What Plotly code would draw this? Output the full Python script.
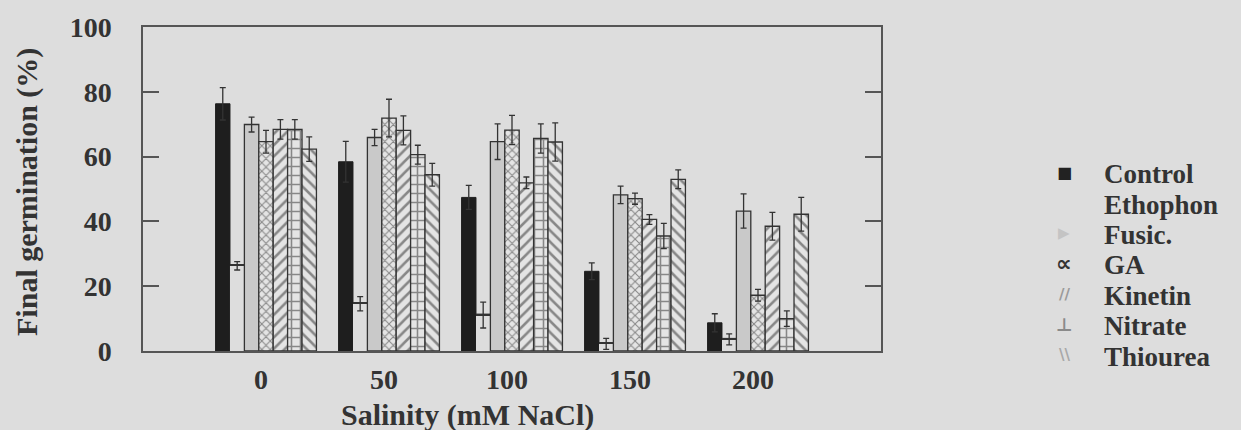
import plotly.graph_objects as go

# ---------------- data ----------------
salinity_labels = ["0", "50", "100", "150", "200"]
salinity_pos = [0, 1, 2, 3, 4]

control = [76.3, 58.4, 47.4, 24.6, 8.7]
control_err = [5.0, 6.3, 3.7, 2.6, 2.8]
ethophon = [26.3, 14.6, 11.1, 2.2, 3.6]
ethophon_err = [1.3, 2.2, 4.0, 1.7, 1.7]
fusic = [69.9, 65.9, 64.6, 48.2, 43.2]
fusic_err = [2.3, 2.5, 5.5, 2.7, 5.3]
ga = [64.6, 71.9, 68.2, 47.0, 17.2]
ga_err = [3.5, 5.8, 4.5, 1.7, 1.8]
kinetin = [68.4, 68.1, 51.9, 40.6, 38.5]
kinetin_err = [3.0, 4.5, 1.8, 1.5, 4.3]
nitrate = [68.4, 60.6, 65.6, 35.5, 10.0]
nitrate_err = [3.0, 2.9, 4.5, 3.9, 2.4]
thiourea = [62.3, 54.4, 64.5, 53.0, 42.2]
thiourea_err = [3.8, 3.5, 5.9, 2.9, 5.2]

y_ticks = [0, 20, 40, 60, 80, 100]

# ---------------- style ----------------
W, H = 1241, 430
ML, MR, MT, MB = 143, 360, 23, 79
PW, PH = W - ML - MR, H - MT - MB
BG = "#dddddd"
INK = "#333333"
AXC = "#555555"
FONT = "Liberation Serif"
TOP_LINE = 0.45  # thickness of the Ethophon top stroke (data units)


def px_x(px):
    return (px - ML) / PW


def px_y(py):
    return (H - MB - py) / PH


def err(vals):
    return dict(type="data", array=vals, visible=True, color=INK,
                thickness=1.3, width=3)


fig = go.Figure()

fig.add_trace(go.Bar(name="Control", x=salinity_pos, y=control, offsetgroup="c",
                     marker=dict(color="#1e1e1e", line=dict(color="#1e1e1e", width=1)),
                     error_y=err(control_err)))
fig.add_trace(go.Bar(name="Ethophon", x=salinity_pos, y=ethophon, offsetgroup="e",
                     marker=dict(color=BG, line=dict(width=0)),
                     error_y=err(ethophon_err)))
fig.add_trace(go.Bar(name="Ethophon top", x=salinity_pos, y=[TOP_LINE] * len(ethophon),
                     base=ethophon, offsetgroup="e", showlegend=False,
                     marker=dict(color=INK, line=dict(width=0))))
fig.add_trace(go.Bar(name="Fusic.", x=salinity_pos, y=fusic, offsetgroup="f",
                     marker=dict(color="#c9c9c9", line=dict(color=INK, width=1.3)),
                     error_y=err(fusic_err)))
pattern_series = [
    ("GA", ga, ga_err, "x", 6, "g"),
    ("Kinetin", kinetin, kinetin_err, "/", 8, "k"),
    ("Nitrate", nitrate, nitrate_err, "+", 9, "n"),
    ("Thiourea", thiourea, thiourea_err, "\\", 8, "t"),
]
for name, vals, errs, shape, size, grp in pattern_series:
    fig.add_trace(go.Bar(name=name, x=salinity_pos, y=vals, offsetgroup=grp,
                         marker=dict(color="#e4e4e4", line=dict(color=INK, width=1.3),
                                     pattern=dict(shape=shape, size=size, solidity=0.32,
                                                  fgcolor="#2a2a2a", bgcolor="#e4e4e4")),
                         error_y=err(errs)))

fig.update_traces(showlegend=False)

fig.update_layout(
    width=W, height=H,
    margin=dict(l=ML, r=MR, t=MT, b=MB),
    paper_bgcolor=BG, plot_bgcolor=BG,
    barmode="group", bargap=0.18, bargroupgap=0,
    font=dict(family=FONT, color=INK, size=28, weight="bold"),
    xaxis=dict(range=[-1, 5], tickvals=salinity_pos, ticktext=salinity_labels,
               ticks="", showline=True, linecolor=AXC, linewidth=1.5, mirror=True,
               showgrid=False, zeroline=False, ticklabelstandoff=3, ticklabelshift=-5,
               tickfont=dict(size=28, family=FONT, color=INK, weight="bold")),
    xaxis2=dict(range=[-1, 5], overlaying="x", side="top", tickvals=salinity_pos,
                ticks="inside", ticklen=13, tickwidth=1.5, tickcolor=AXC,
                showticklabels=False, showline=False, showgrid=False, zeroline=False),
    yaxis=dict(range=[0, 100], tickvals=y_ticks, ticks="inside", ticklen=16,
               tickwidth=1.5, tickcolor=AXC, showline=True, linecolor=AXC, linewidth=1.5,
               mirror="ticks", showgrid=False, zeroline=False, ticklabelstandoff=24,
               tickfont=dict(size=28, family=FONT, color=INK, weight="bold")),
    showlegend=False,
)

annotations = [
    dict(text="Final germination (%)", xref="paper", yref="paper",
         x=px_x(27), y=px_y(190), xanchor="center", yanchor="middle", textangle=-90,
         showarrow=False, font=dict(size=30, family=FONT, color=INK, weight="bold")),
    dict(text="Salinity (mM NaCl)", xref="paper", yref="paper",
         x=px_x(467), y=px_y(416), xanchor="center", yanchor="middle",
         showarrow=False, font=dict(size=30, family=FONT, color=INK, weight="bold")),
]

legend_names = ["Control", "Ethophon", "Fusic.", "GA", "Kinetin", "Nitrate", "Thiourea"]
legend_syms = ["■", "", "▶", "∝", "∕∕", "⊥", "\\\\"]
legend_sym_colors = ["#222222", BG, "#c4c4c4", "#333333", "#9a9a9a", "#8a8a8a", "#a8a8a8"]
legend_sym_sizes = [16, 14, 15, 22, 15, 18, 15]
for i, (nm, sym, sc, ss) in enumerate(zip(legend_names, legend_syms, legend_sym_colors,
                                          legend_sym_sizes)):
    yc = 172 + i * 30.8
    annotations.append(dict(text=nm, xref="paper", yref="paper", x=px_x(1102), y=px_y(yc),
                            xanchor="left", yanchor="middle", showarrow=False,
                            font=dict(size=27, family=FONT, color=INK, weight="bold")))
    if sym:
        annotations.append(dict(text=sym, xref="paper", yref="paper", x=px_x(1064),
                                y=px_y(yc - 2), xanchor="center", yanchor="middle",
                                showarrow=False,
                                font=dict(size=ss, family="DejaVu Sans", color=sc)))

fig.update_layout(annotations=annotations)

fig.write_html("out.html")
